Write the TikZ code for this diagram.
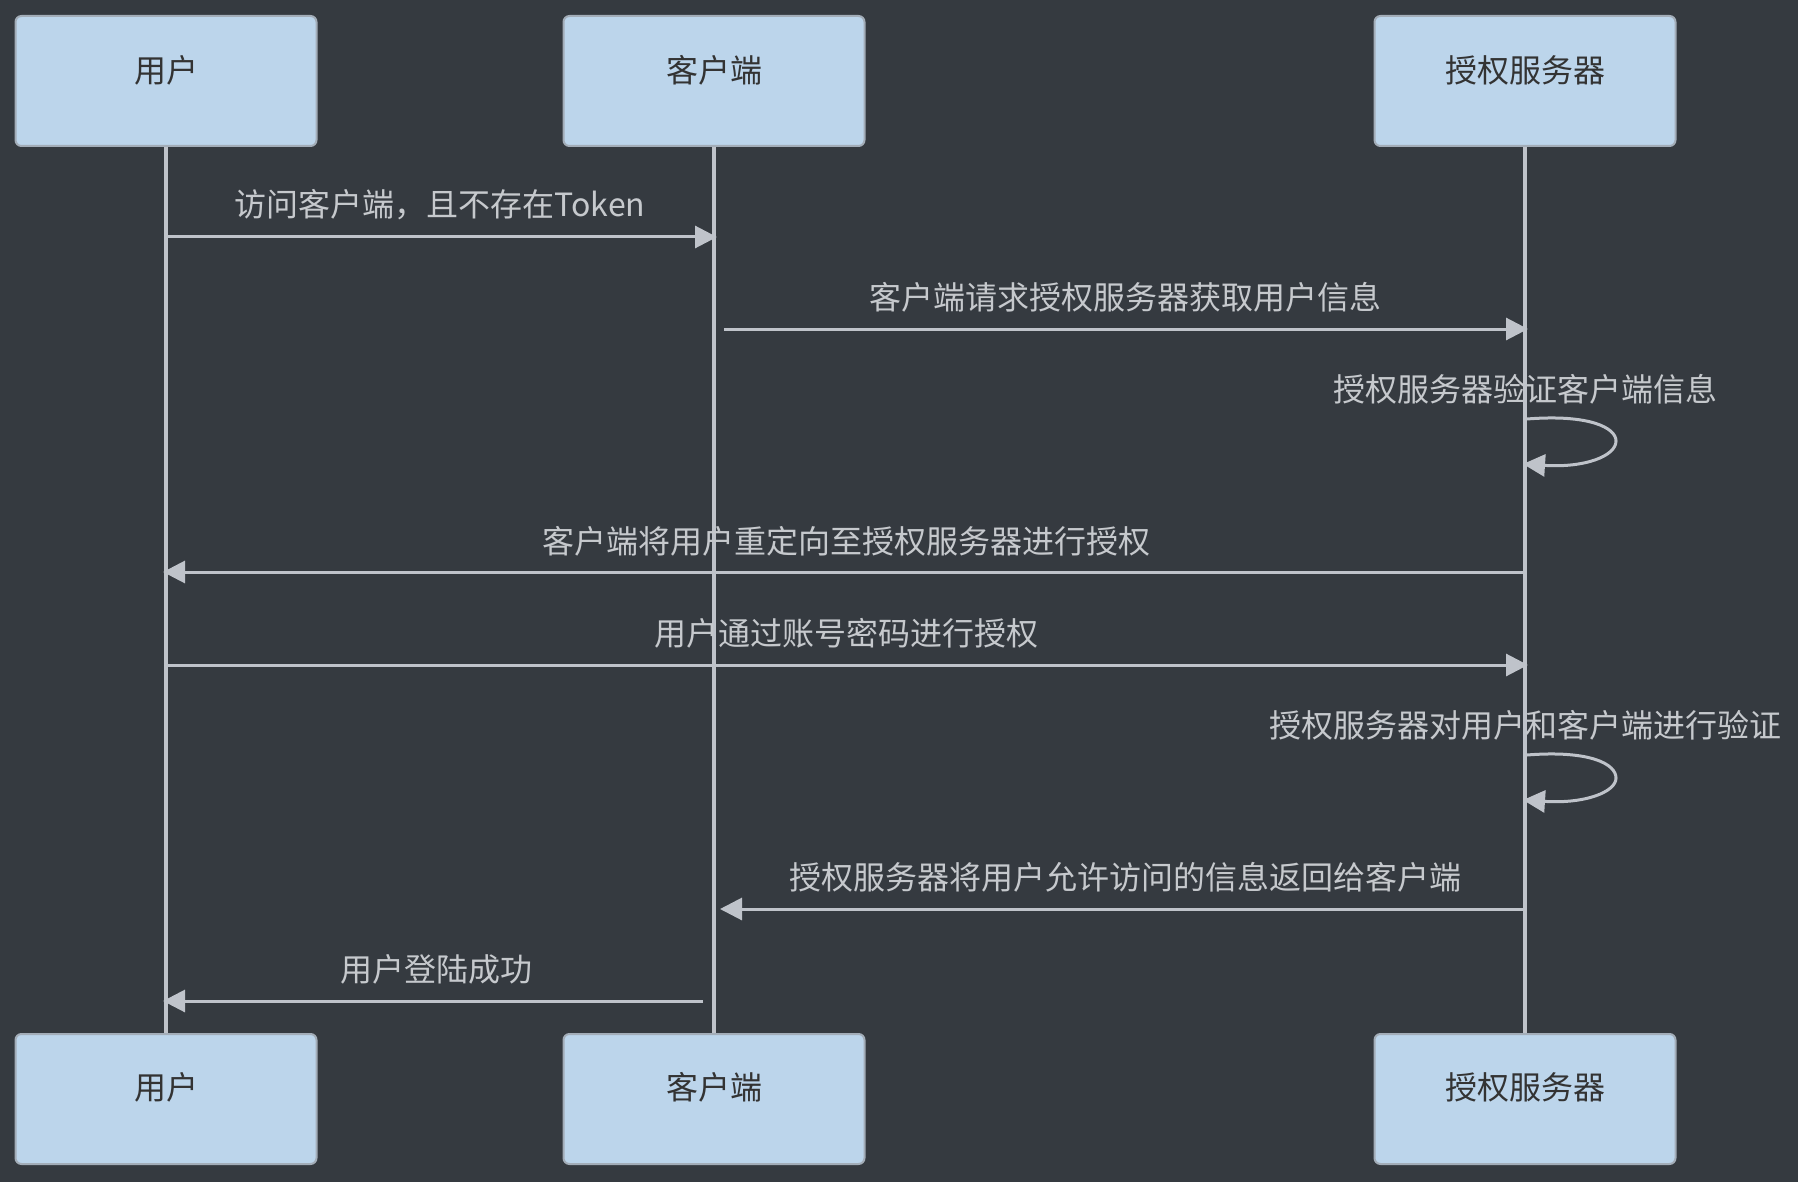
\documentclass[tikz,border=0pt]{standalone}
\usepackage{fontspec}
\setmainfont{Noto Sans CJK SC}
\usetikzlibrary{arrows.meta}
\definecolor{bgc}{HTML}{353A40}
\definecolor{actorfill}{HTML}{BCD5EB}
\definecolor{actorline}{HTML}{A3ADB8}
\definecolor{actortext}{HTML}{333333}
\definecolor{wire}{HTML}{BFC3CA}
\definecolor{msgtext}{HTML}{C6C9CD}
\begin{document}
\begin{tikzpicture}[x=1pt,y=-1pt,
  actor/.style={draw=actorline,line width=2pt,fill=actorfill,rounded corners=6pt,
    minimum width=301pt,minimum height=130pt,inner sep=0pt},
  actorlabel/.style={text=actortext,font=\fontsize{32}{38}\selectfont,inner sep=0pt},
  lifeline/.style={draw=wire,line width=4pt},
  msg/.style={draw=wire,line width=3pt,-{Triangle[length=22pt,width=22pt]}},
  msglabel/.style={text=msgtext,font=\fontsize{32}{38}\selectfont,inner sep=0pt}]
\fill[bgc] (0,0) rectangle (1798,1182);
\useasboundingbox (0,0) rectangle (1798,1182);

% lifelines, drawn first so the boxes cover their ends
\coordinate (uA) at (166,146);  \coordinate (uB) at (166,1034);
\coordinate (cA) at (714,146);  \coordinate (cB) at (714,1034);
\coordinate (sA) at (1525,146); \coordinate (sB) at (1525,1034);
\draw[lifeline] (uA) -- (uB);
\draw[lifeline] (cA) -- (cB);
\draw[lifeline] (sA) -- (sB);

% participant boxes, top row
\node[actor] (userTop) at (166,81) {};
\node[actor] (clientTop) at (714,81) {};
\node[actor] (serverTop) at (1525,81) {};
\node[actorlabel] (userTopT) at (166,70) {用户};
\node[actorlabel] (clientTopT) at (714,70) {客户端};
\node[actorlabel] (serverTopT) at (1525,70) {授权服务器};

% participant boxes, bottom row
\node[actor] (userBot) at (166,1099) {};
\node[actor] (clientBot) at (714,1099) {};
\node[actor] (serverBot) at (1525,1099) {};
\node[actorlabel] (userBotT) at (166,1087) {用户};
\node[actorlabel] (clientBotT) at (714,1087) {客户端};
\node[actorlabel] (serverBotT) at (1525,1087) {授权服务器};

% message end points on the lifelines
\coordinate (m1a) at (166,237);  \coordinate (m1b) at (717,237);
\coordinate (m2a) at (724,329);  \coordinate (m2b) at (1528,329);
\coordinate (m4a) at (1525,572); \coordinate (m4b) at (163,572);
\coordinate (m5a) at (166,665);  \coordinate (m5b) at (1528,665);
\coordinate (m7a) at (1525,909); \coordinate (m7b) at (720,909);
\coordinate (m8a) at (703,1001); \coordinate (m8b) at (163,1001);

% messages
\draw[msg] (m1a) -- (m1b);
\node[msglabel] (l1) at (440,205) {访问客户端，且不存在Token};

\draw[msg] (m2a) -- (m2b);
\node[msglabel] (l2) at (1125,297) {客户端请求授权服务器获取用户信息};

\coordinate (s1a) at (1527,419); \coordinate (s1m) at (1616,441); \coordinate (s1b) at (1523,464);
\draw[msg] (s1a) .. controls (1590,414) and (1616,428) .. (s1m)
                 .. controls (1616,456) and (1585,468) .. (s1b);
\node[msglabel] (l3) at (1525,389) {授权服务器验证客户端信息};

\draw[msg] (m4a) -- (m4b);
\node[msglabel] (l4) at (846,541) {客户端将用户重定向至授权服务器进行授权};

\draw[msg] (m5a) -- (m5b);
\node[msglabel] (l5) at (846,633) {用户通过账号密码进行授权};

\coordinate (s2a) at (1527,755); \coordinate (s2m) at (1616,778); \coordinate (s2b) at (1523,800);
\draw[msg] (s2a) .. controls (1590,750) and (1616,764) .. (s2m)
                 .. controls (1616,792) and (1585,804) .. (s2b);
\node[msglabel] (l6) at (1525,725) {授权服务器对用户和客户端进行验证};

\draw[msg] (m7a) -- (m7b);
\node[msglabel] (l7) at (1125,877) {授权服务器将用户允许访问的信息返回给客户端};

\draw[msg] (m8a) -- (m8b);
\node[msglabel] (l8) at (436,969) {用户登陆成功};
\end{tikzpicture}
\end{document}
